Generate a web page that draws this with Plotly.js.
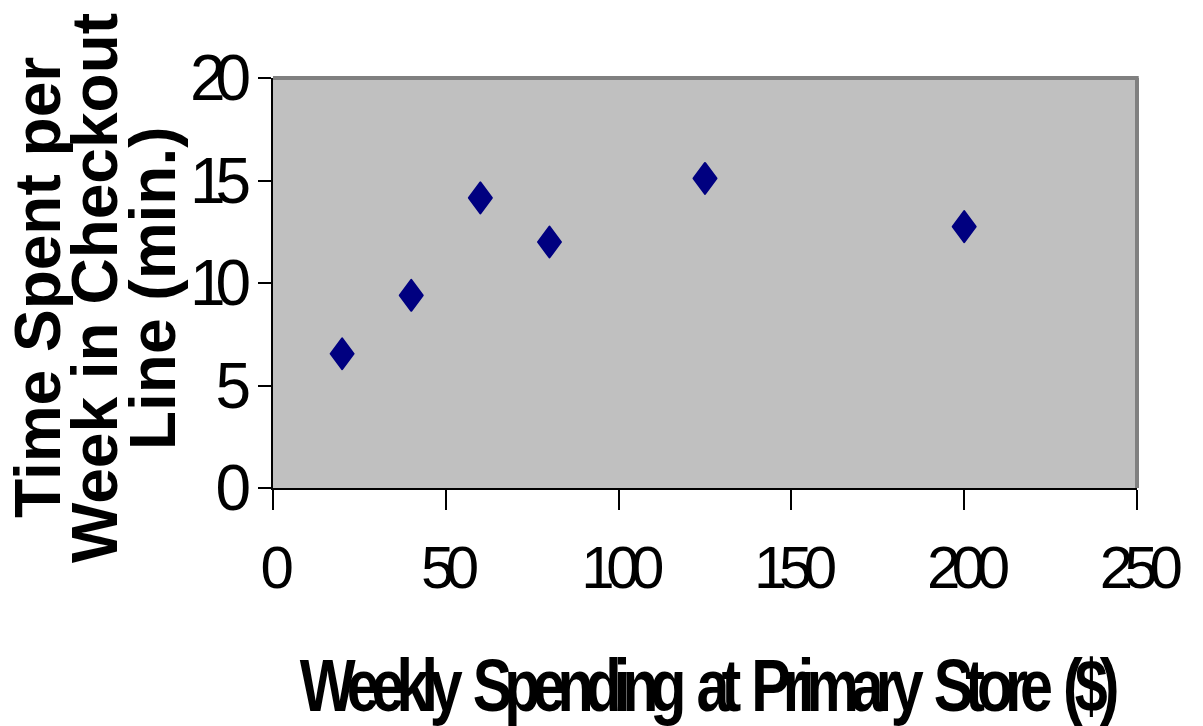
<!DOCTYPE html>
<html>
<head>
<meta charset="utf-8">
<script src="https://cdn.plot.ly/plotly-3.0.1.min.js"></script>
<style>
  html, body { margin: 0; padding: 0; background: #ffffff; }
  #chart { width: 1203px; height: 726px; }
  .xtick text { letter-spacing: -8.5px; }
  .ytick text { letter-spacing: -10px; }
  .xtitle {
    letter-spacing: -10px; word-spacing: 12px;
    transform-box: fill-box; transform-origin: center; transform: scaleX(0.8);
  }
  .scatterlayer path.point { stroke-linejoin: round; }
</style>
</head>
<body>
<div id="chart"></div>
<script>
// Data
const spending = [20, 40, 60, 80, 125, 200];          // Weekly spending ($)
const checkoutMinutes = [6.55, 9.4, 14.15, 12.0, 15.1, 12.75]; // Time in checkout line (min.)
const xTickVals = [0, 50, 100, 150, 200, 250];
const yTickVals = [0, 5, 10, 15, 20];
const xTitle = 'Weekly Spending at Primary Store ($)';
const yTitleLines = ['Time Spent per', 'Week in Checkout', 'Line (min.)'];

const FONT = 'Liberation Sans, Arial, sans-serif';

const trace = {
  type: 'scatter',
  mode: 'markers',
  x: spending,
  y: checkoutMinutes,
  marker: { symbol: 'diamond', size: 20, color: '#000080', line: { color: '#000080', width: 2 } },
  hoverinfo: 'x+y'
};

const yShifts = [-235, -178, -120];
const annotations = yTitleLines.map((t, i) => ({
  text: t, xref: 'paper', yref: 'paper', x: 0, y: 0.5,
  xanchor: 'center', yanchor: 'middle', xshift: yShifts[i], yshift: -5,
  textangle: -90, showarrow: false,
  font: { family: FONT, size: 64, color: '#000000', weight: 'bold' }
}));

const layout = {
  width: 1203, height: 726,
  margin: { l: 273, r: 66, t: 78, b: 238, pad: 0 },
  paper_bgcolor: '#ffffff',
  plot_bgcolor: '#C0C0C0',
  showlegend: false,
  xaxis: {
    range: [0, 250], tickvals: xTickVals, ticktext: xTickVals.map(String),
    showgrid: false, zeroline: false,
    showline: true, linecolor: '#000000', linewidth: 2,
    ticks: 'outside', ticklen: 20, tickwidth: 2, tickcolor: '#000000',
    tickfont: { family: FONT, size: 60, color: '#000000' },
    ticklabelstandoff: 6,
    title: { text: xTitle, standoff: 65, font: { family: FONT, size: 74, color: '#000000', weight: 'bold' } },
    fixedrange: true
  },
  yaxis: {
    range: [0, 20], tickvals: yTickVals, ticktext: yTickVals.map(String),
    showgrid: false, zeroline: false,
    showline: true, linecolor: '#000000', linewidth: 2,
    ticks: 'outside', ticklen: 13, tickwidth: 2, tickcolor: '#000000',
    tickfont: { family: FONT, size: 64, color: '#000000' },
    ticklabelstandoff: 4,
    fixedrange: true
  },
  shapes: [
    { type: 'line', xref: 'paper', yref: 'paper', x0: 0, x1: 1.002, y0: 1, y1: 1, line: { color: '#808080', width: 4 }, layer: 'above' },
    { type: 'line', xref: 'paper', yref: 'paper', x0: 1, x1: 1, y0: 0, y1: 1, line: { color: '#808080', width: 4 }, layer: 'above' }
  ],
  annotations: annotations
};

function reshapeMarkers() {
  document.querySelectorAll('.scatterlayer path.point').forEach(p => {
    p.setAttribute('d', 'M0,-15.5L11.5,0L0,15.5L-11.5,0Z');
  });
}

Plotly.newPlot('chart', [trace], layout, { displayModeBar: false, staticPlot: true }).then(gd => {
  reshapeMarkers();
  gd.on('plotly_afterplot', reshapeMarkers);
});
</script>
</body>
</html>
